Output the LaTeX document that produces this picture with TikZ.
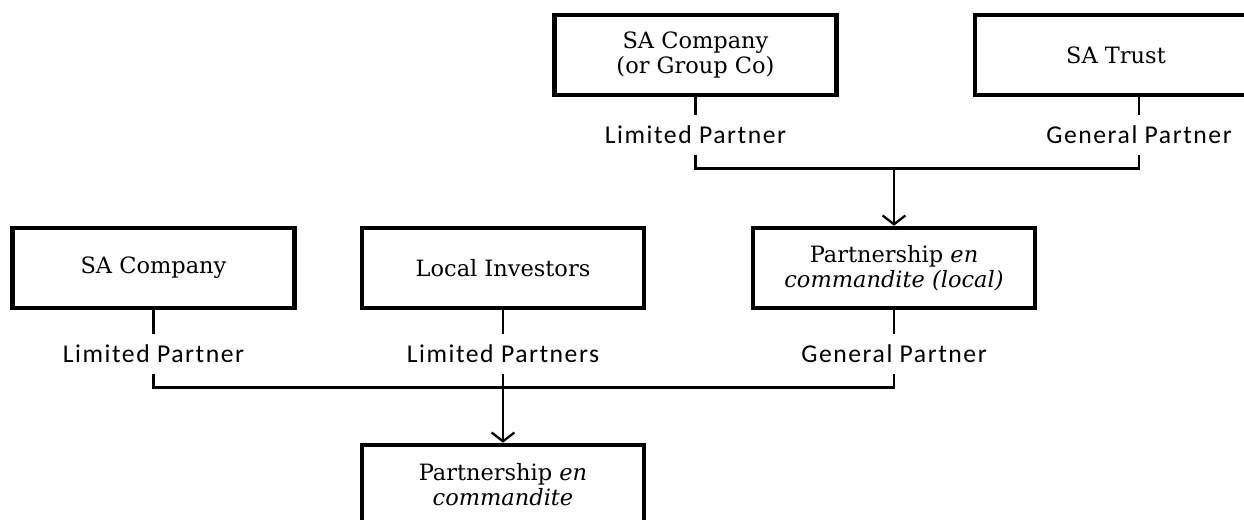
\documentclass[tikz,border=0pt]{standalone}
\usepackage{fontspec}
\usepackage{tikz}
\usetikzlibrary{positioning,arrows.meta}
\newfontfamily\boxfont{DejaVu Serif}
\newfontfamily\partfont[LetterSpace=6]{Carlito}

\begin{document}
\begin{tikzpicture}[
    entity/.style={draw,line width=2.6pt,minimum width=5.64cm,minimum height=1.6cm,
      align=center,font=\boxfont\fontsize{12.8}{14.2}\selectfont},
    role/.style={inner sep=0pt,minimum height=0.8cm,font=\partfont\fontsize{14.6}{16}\selectfont},
    link/.style={line width=1.3pt},
    feed/.style={line width=1.3pt,-{Straight Barb[length=5pt,width=13pt]}}]
  \clip (0,0) rectangle (24.88,-10.38);
  % upper partnership
  \node[entity] (sagroup) at (13.91,-1.1) {SA Company\\(or Group Co)};
  \node[entity] (satrust) at (22.32,-1.1) {SA Trust};
  \node[role] (lpgroup) at (13.91,-2.7) {Limited Partner};
  \node[role] (gptrust) at (22.78,-2.7) {General Partner};
  \node[entity] (pecl) at (17.88,-5.36) {Partnership \textit{en}\\\textit{commandite (local)}};
  \draw[link] (sagroup) -- (lpgroup);
  \draw[link] (satrust.south -| gptrust) -- (gptrust.north);
  \path (lpgroup.south) ++(0,-0.26) coordinate (topbus);
  \draw[link] (lpgroup.south) -- (topbus) -| (gptrust.south);
  \draw[feed] (topbus -| pecl.north) -- (pecl.north);
  % lower partnership
  \node[entity] (sacomp) at (3.07,-5.36) {SA Company};
  \node[entity] (locinv) at (10.06,-5.36) {Local Investors};
  \node[role] (lpcomp) at (3.07,-7.08) {Limited Partner};
  \node[role] (lpinv) at (10.06,-7.08) {Limited Partners};
  \node[role] (gplocal) at (17.88,-7.08) {General Partner};
  \node[entity] (pec) at (10.06,-9.7) {Partnership \textit{en}\\\textit{commandite}};
  \draw[link] (sacomp) -- (lpcomp);
  \draw[link] (locinv) -- (lpinv);
  \draw[link] (pecl) -- (gplocal);
  \path (lpcomp.south) ++(0,-0.26) coordinate (lowbus);
  \draw[link] (lpcomp.south) -- (lowbus) -| (gplocal.south);
  \draw[link] (lpinv.south) -- (lpinv.south |- lowbus);
  \draw[feed] (lowbus -| pec.north) -- (pec.north);
\end{tikzpicture}
\end{document}
